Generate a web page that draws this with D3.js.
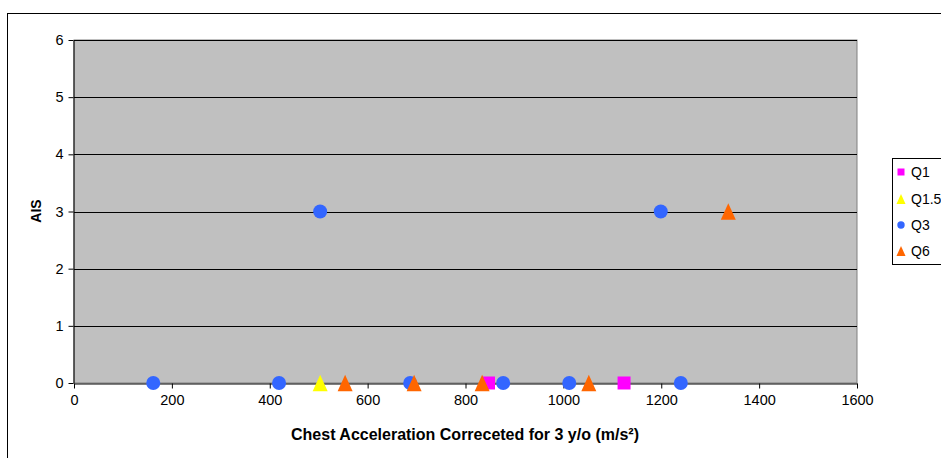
<!DOCTYPE html>
<html>
<head>
<meta charset="utf-8">
<script src="https://cdn.jsdelivr.net/npm/d3@7"></script>
<style>
  html, body { margin: 0; padding: 0; background: #fff; }
  svg { display: block; font-family: "Liberation Sans", Arial, sans-serif; }
</style>
</head>
<body>
<svg id="chart" width="941" height="458"></svg>
<script>
// Chest acceleration (m/s²) vs AIS, per dummy size
const seriesNames = ["Q1", "Q1.5", "Q3", "Q6"];
const q1Accel = [847, 1124];
const q1AIS = [0, 0];
const q15Accel = [503];
const q15AIS = [0];
const q3Accel = [162, 419, 687, 877, 1012, 1240, 503, 1199];
const q3AIS = [0, 0, 0, 0, 0, 0, 3, 3];
const q6Accel = [554, 695, 834, 1052, 1337];
const q6AIS = [0, 0, 0, 0, 3];
const xTicks = [0, 200, 400, 600, 800, 1000, 1200, 1400, 1600];
const yTicks = [0, 1, 2, 3, 4, 5, 6];

const series = [
  { name: seriesNames[0], xs: q1Accel, ys: q1AIS, color: "#FF00FF", shape: "square" },
  { name: seriesNames[1], xs: q15Accel, ys: q15AIS, color: "#FFFF00", shape: "triangle" },
  { name: seriesNames[2], xs: q3Accel, ys: q3AIS, color: "#3366FF", shape: "circle" },
  { name: seriesNames[3], xs: q6Accel, ys: q6AIS, color: "#FF6600", shape: "triangle" }
];

const svg = d3.select("#chart");
const plot = { left: 74, right: 857, top: 40, bottom: 383 };

const x = d3.scaleLinear().domain([0, 1600]).range([plot.left, plot.right]);
const y = d3.scaleLinear().domain([0, 6]).range([plot.bottom, plot.top]);

// Outer chart frame
svg.append("rect")
  .attr("x", 7.5).attr("y", 13.5)
  .attr("width", 945).attr("height", 455)
  .attr("fill", "#fff").attr("stroke", "#000").attr("stroke-width", 1);

// Plot background
svg.append("rect")
  .attr("x", plot.left).attr("y", plot.top)
  .attr("width", plot.right - plot.left).attr("height", plot.bottom - plot.top)
  .attr("fill", "#C0C0C0").attr("stroke", "#808080").attr("stroke-width", 1);

// Horizontal gridlines
svg.append("g")
  .selectAll("line")
  .data(yTicks.filter(d => d > 0))
  .join("line")
  .attr("x1", plot.left).attr("x2", plot.right)
  .attr("y1", d => Math.round(y(d)) + 0.5).attr("y2", d => Math.round(y(d)) + 0.5)
  .attr("stroke", "#000").attr("stroke-width", 1);

// Axes
const xAxis = d3.axisBottom(x).tickValues(xTicks).tickFormat(d3.format("d"))
  .tickSize(5).tickSizeOuter(0).tickPadding(6);
const yAxis = d3.axisLeft(y).tickValues(yTicks).tickFormat(d3.format("d"))
  .tickSize(5).tickSizeOuter(0).tickPadding(5);

const gx = svg.append("g")
  .attr("transform", `translate(0,${Math.round(plot.bottom) + 0.5})`)
  .call(xAxis);
const gy = svg.append("g")
  .attr("transform", `translate(${plot.left - 0.5},0)`)
  .call(yAxis);

[gx, gy].forEach(g => {
  g.select(".domain").attr("stroke", "#000");
  g.selectAll(".tick line").attr("stroke", "#000");
  g.selectAll(".tick text")
    .attr("fill", "#000")
    .style("font-size", "14.5px")
    .style("font-family", "'Liberation Sans', Arial, sans-serif");
});

// Axis titles
svg.append("text")
  .attr("x", 465).attr("y", 440)
  .attr("text-anchor", "middle")
  .style("font-size", "16px").style("font-weight", "bold")
  .text("Chest Acceleration Correceted for 3 y/o (m/s²)");

svg.append("text")
  .attr("transform", `translate(41,211) rotate(-90)`)
  .attr("text-anchor", "middle")
  .style("font-size", "14px").style("font-weight", "bold")
  .text("AIS");

// Marker shapes, centred on their data point
const markerPath = (shape, r) => {
  if (shape === "square") return `M${-r},${-r}H${r}V${r}H${-r}Z`;
  if (shape === "triangle") return `M0,${-r * 1.1}L${r},${r * 1.1}L${-r},${r * 1.1}Z`;
  return d3.symbol().type(d3.symbolCircle).size(Math.PI * r * r)();
};
const bigSize = { square: 6.5, triangle: 7.5, circle: 7 };
const smallSize = { square: 3.5, triangle: 4.5, circle: 3.7 };

// Data points
series.forEach(s => {
  const pts = s.xs.map((v, i) => ({ x: v, y: s.ys[i] }));
  svg.append("g")
    .selectAll("path")
    .data(pts)
    .join("path")
    .attr("d", markerPath(s.shape, bigSize[s.shape]))
    .attr("transform", d => `translate(${x(d.x)},${y(d.y)})`)
    .attr("fill", s.color);
});

// Legend
const legend = svg.append("g");
legend.append("rect")
  .attr("x", 892.5).attr("y", 158.5)
  .attr("width", 60).attr("height", 106)
  .attr("fill", "#fff").attr("stroke", "#000");
const legendY = [172, 199, 225, 251];
series.forEach((s, i) => {
  legend.append("path")
    .attr("d", markerPath(s.shape, smallSize[s.shape]))
    .attr("transform", `translate(901,${legendY[i]})`)
    .attr("fill", s.color);
  legend.append("text")
    .attr("x", 911).attr("y", legendY[i] + 5)
    .style("font-size", "14px")
    .text(s.name);
});
</script>
</body>
</html>
